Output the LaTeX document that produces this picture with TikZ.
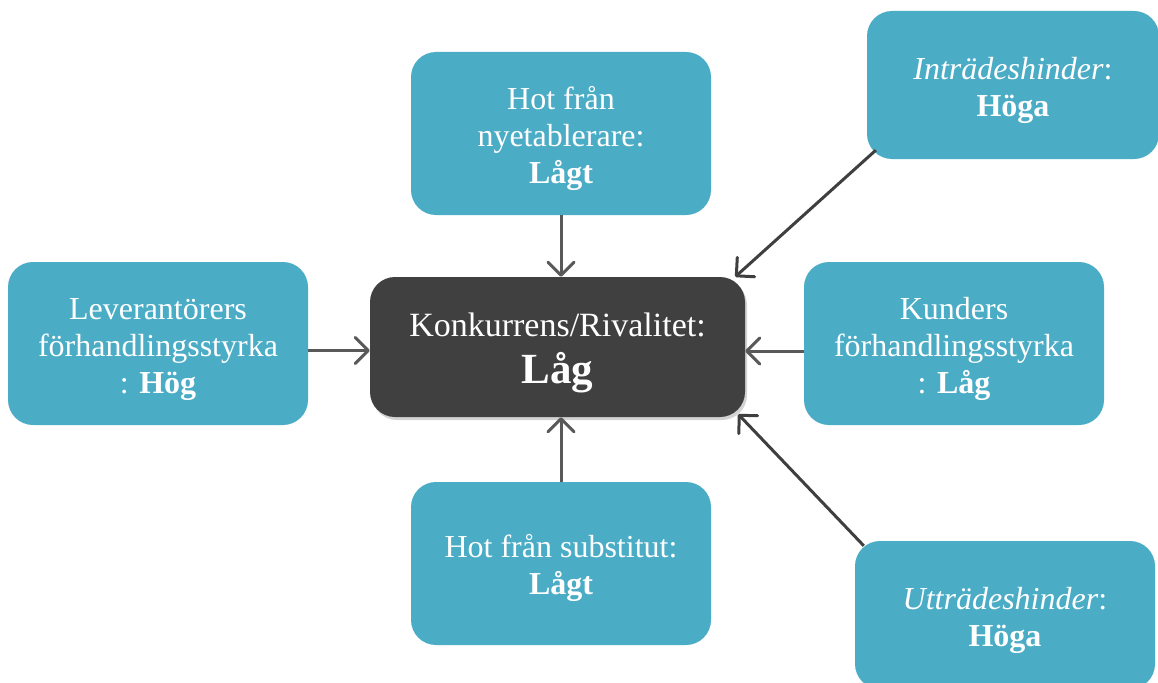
\documentclass[tikz,border=0pt]{standalone}
\usepackage{fontspec}
\setmainfont{Liberation Serif}
\usetikzlibrary{arrows.meta,shadows}
\definecolor{teal}{HTML}{4BACC6}
\definecolor{darkbox}{HTML}{404040}
\definecolor{arrgray}{HTML}{595959}
\definecolor{arrdark}{HTML}{3F3F3F}
\newcommand{\topstrut}{\rule{0pt}{33pt}}
\tikzset{
  forcebox/.style={rounded corners=25pt, fill=teal, draw=none, text=white,
    inner sep=0pt, align=center, minimum width=300pt, minimum height=163pt,
    font=\fontsize{32}{37}\selectfont},
  mainbox/.style={rounded corners=25pt, fill=darkbox, draw=none, text=white,
    inner sep=0pt, align=center, minimum width=375pt, minimum height=140pt,
    font=\fontsize{34}{47}\selectfont,
    drop shadow={shadow xshift=2pt, shadow yshift=-3pt, opacity=0.35}},
  tipshape/.tip={Straight Barb[length=13pt,width=26pt,line width=3pt,round]},
  arr/.style={draw=arrgray, line width=3pt, -tipshape},
  darr/.style={draw=arrdark, line width=3pt, -tipshape}
}
\begin{document}
\begin{tikzpicture}[x=1pt,y=-1pt]
\useasboundingbox (0,0) rectangle (1158,682);
\clip (0,0) rectangle (1158,682);
\node[forcebox] (top) at (561,133.5) {\topstrut Hot från\\nyetablerare:\\\textbf{Lågt}};
\node[forcebox] (lev) at (158,343.5) {\topstrut Leverantörers\\förhandlingsstyrka\\: \textbf{Hög}};
\node[forcebox] (kund) at (954,343.5) {\topstrut Kunders\\förhandlingsstyrka\\: \textbf{Låg}};
\node[forcebox] (sub) at (561,563.5) {\topstrut Hot från substitut:\\\textbf{Lågt}};
\node[forcebox, minimum width=292pt, minimum height=148pt] (intr) at (1013,85) {\topstrut\textit{Inträdeshinder}:\\\textbf{Höga}};
\node[forcebox, minimum height=148pt] (utt) at (1005,615) {\topstrut\textit{Utträdeshinder}:\\\textbf{Höga}};
\node[mainbox] (kon) at (557.5,347) {\rule{0pt}{36pt}Konkurrens/Rivalitet:\\{\fontsize{43}{47}\selectfont\textbf{Låg}}};
\draw[arr] (top.south -| 561,0) -- (kon.north -| 561,0);
\draw[arr] (sub.north -| 561,0) -- (kon.south -| 561,0);
\draw[arr] ([yshift=-7pt]lev.east) -- ([yshift=-7pt]lev.east -| kon.west);
\draw[arr] ([yshift=-7.5pt]kund.west) -- ([yshift=-7.5pt]kund.west -| kon.east);
\draw[darr] ([xshift=9pt,yshift=9pt]intr.south west) -- ([xshift=-10pt]kon.north east);
\draw[darr] ([xshift=9pt,yshift=-5pt]utt.north west) -- ([xshift=-7pt,yshift=3pt]kon.south east);
\end{tikzpicture}
\end{document}
